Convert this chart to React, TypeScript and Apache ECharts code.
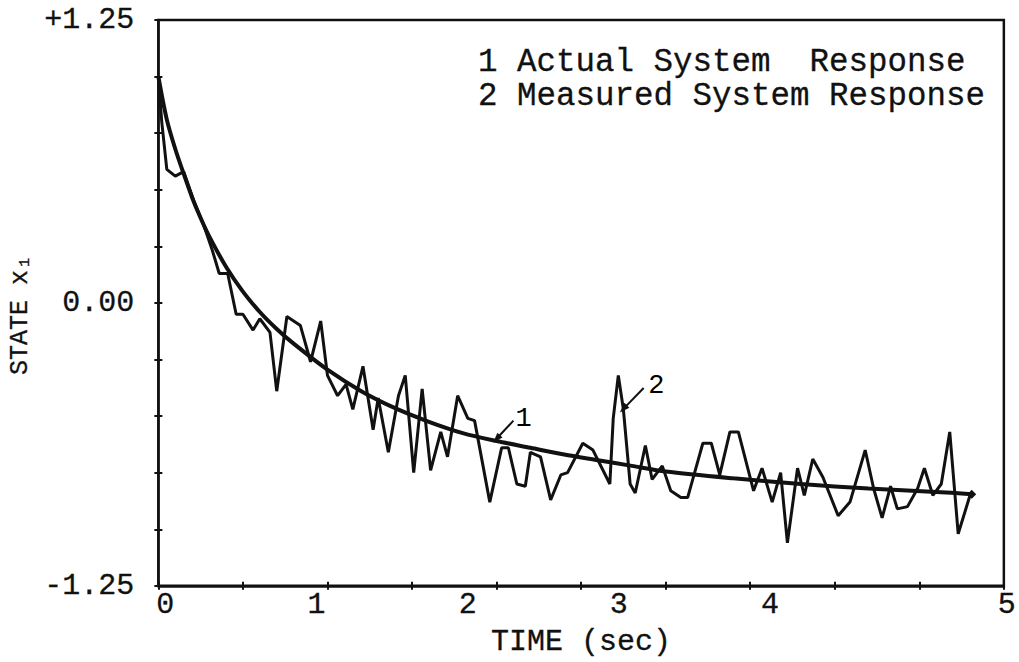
import React, { useEffect, useRef } from "react";
import * as echarts from "echarts";

// Time (s) / state x1 pairs for the two responses
const actualResponse: [number, number][] = [
  [0, 1.0], [0.05, 0.81], [0.1, 0.68], [0.15, 0.57], [0.2, 0.465], [0.25, 0.375],
  [0.3, 0.295], [0.4, 0.16], [0.5, 0.05], [0.6, -0.04], [0.7, -0.115], [0.8, -0.18],
  [1.0, -0.295], [1.2, -0.39], [1.4, -0.465], [1.6, -0.525], [1.8, -0.575], [2.0, -0.61],
  [2.2, -0.64], [2.4, -0.67], [2.6, -0.695], [2.8, -0.72], [3.0, -0.745], [3.4, -0.775],
  [3.8, -0.8], [4.2, -0.82], [4.6, -0.835], [4.81, -0.845],
];

const measuredResponse: [number, number][] = [
  [0, 1.0], [0.02, 0.8], [0.05, 0.59], [0.1, 0.56], [0.15, 0.58], [0.21, 0.45],
  [0.27, 0.34], [0.32, 0.23], [0.36, 0.13], [0.41, 0.13], [0.46, -0.05], [0.5, -0.05],
  [0.56, -0.12], [0.6, -0.07], [0.66, -0.13], [0.7, -0.39], [0.76, -0.06], [0.84, -0.1],
  [0.9, -0.26], [0.96, -0.08], [1.0, -0.32], [1.06, -0.41], [1.11, -0.36], [1.15, -0.47],
  [1.21, -0.28], [1.27, -0.56], [1.3, -0.42], [1.36, -0.66], [1.42, -0.41], [1.46, -0.32],
  [1.51, -0.75], [1.56, -0.38], [1.61, -0.74], [1.67, -0.57], [1.71, -0.68], [1.77, -0.41],
  [1.83, -0.51], [1.87, -0.52], [1.96, -0.88], [2.03, -0.64], [2.07, -0.64], [2.12, -0.8],
  [2.17, -0.81], [2.2, -0.66], [2.26, -0.68], [2.32, -0.87], [2.38, -0.76], [2.42, -0.75],
  [2.51, -0.62], [2.57, -0.65], [2.67, -0.8], [2.69, -0.51], [2.72, -0.32], [2.75, -0.47],
  [2.79, -0.8], [2.82, -0.84], [2.88, -0.63], [2.92, -0.78], [2.98, -0.72], [3.03, -0.83],
  [3.09, -0.86], [3.13, -0.86], [3.19, -0.7], [3.22, -0.62], [3.27, -0.62], [3.32, -0.76],
  [3.38, -0.57], [3.43, -0.57], [3.52, -0.83], [3.57, -0.73], [3.63, -0.88], [3.68, -0.75],
  [3.72, -1.06], [3.78, -0.73], [3.82, -0.85], [3.87, -0.69], [3.93, -0.77], [4.02, -0.94],
  [4.09, -0.88], [4.18, -0.65], [4.23, -0.82], [4.28, -0.95], [4.33, -0.81], [4.37, -0.91],
  [4.43, -0.9], [4.49, -0.82], [4.53, -0.73], [4.58, -0.85], [4.63, -0.8], [4.68, -0.57],
  [4.73, -1.02], [4.8, -0.85],
];

// Curve call-outs: arrow tail (t, x1) and arrow head (t, x1)
const calloutArrows: [[number, number], [number, number]][] = [
  [[2.1, -0.52], [2.0, -0.6]],
  [[2.87, -0.376], [2.75, -0.468]],
];
// Call-out numbers and where they sit (t, x1)
const calloutNames = ["1", "2"];
const calloutSpots: [number, number][] = [
  [2.16, -0.515],
  [2.945, -0.368],
];

const legendLines = ["1 Actual System\u00a0 Response", "2 Measured System Response"];
const timeLabels = [0, 1, 2, 3, 4];
const lastTimeLabel = "5";
const stateLabels: Record<string, string> = { "1.25": "+1.25", "0": "0.00", "-1.25": "-1.25" };

const FONT = '"Liberation Mono", "DejaVu Sans Mono", monospace';
const INK = "#111";

export default function App() {
  const ref = useRef<HTMLDivElement>(null);

  useEffect(() => {
    if (!ref.current) return;
    const chart = echarts.init(ref.current, undefined, { renderer: "svg" });

    const textBase = {
      fontFamily: FONT,
      color: INK,
      textBorderColor: INK,
      textBorderWidth: 0.3,
    };

    const lastActual = actualResponse[actualResponse.length - 1];

    chart.setOption({
      animation: false,
      backgroundColor: "#fff",
      color: [INK, INK, INK],
      title: {
        text: legendLines.join("\n"),
        left: 478,
        top: 45,
        padding: 0,
        textStyle: { ...textBase, fontSize: 32.5, fontWeight: "normal", lineHeight: 34 },
      },
      grid: {
        left: 158,
        right: 15,
        top: 20,
        bottom: 70,
        show: true,
        borderColor: INK,
        borderWidth: 2.5,
        backgroundColor: "transparent",
      },
      xAxis: [
        {
          type: "value",
          min: 0,
          max: 5,
          interval: 0.5,
          position: "bottom",
          axisLine: { show: true, onZero: false, lineStyle: { color: INK, width: 2.5 } },
          axisTick: { show: true, inside: true, length: 4, lineStyle: { color: INK, width: 2 } },
          axisLabel: { show: false },
          splitLine: { show: false },
          name: "TIME (sec)",
          nameLocation: "middle",
          nameGap: 41,
          nameTextStyle: { ...textBase, fontSize: 30 },
        },
        {
          // typed time labels, printed on a slightly compressed spacing
          type: "value",
          min: -0.0463,
          max: 5.547,
          position: "bottom",
          axisLine: { show: false, onZero: false },
          axisTick: { show: false },
          splitLine: { show: false },
          axisLabel: {
            show: true,
            customValues: timeLabels,
            formatter: (v: number) => String(Math.round(v)),
            margin: 4,
            ...textBase,
            fontSize: 30,
          },
          name: lastTimeLabel,
          nameLocation: "end",
          nameGap: 3,
          nameTextStyle: {
            ...textBase,
            fontSize: 30,
            align: "center",
            verticalAlign: "top",
            padding: [4, 0, 0, 0],
          },
        },
        {
          type: "value",
          min: 0,
          max: 5,
          interval: 0.5,
          position: "bottom",
          axisLine: { show: false, onZero: false },
          axisTick: { show: true, inside: false, length: 4, lineStyle: { color: INK, width: 2 } },
          axisLabel: { show: false },
          splitLine: { show: false },
        },
      ],
      yAxis: [
        {
          type: "value",
          min: -1.25,
          max: 1.25,
          interval: 0.25,
          position: "left",
          axisLine: { show: true, onZero: false, lineStyle: { color: INK, width: 2.5 } },
          axisTick: { show: true, inside: true, length: 4, lineStyle: { color: INK, width: 2 } },
          splitLine: { show: false },
          axisLabel: {
            show: true,
            margin: 24,
            showMinLabel: true,
            showMaxLabel: true,
            formatter: (v: number) => stateLabels[String(v)] ?? "",
            ...textBase,
            fontSize: 30,
          },
          name: "STATE x\u2081",
          nameLocation: "middle",
          nameGap: 122,
          nameTextStyle: { ...textBase, fontSize: 25, padding: [0, 24, 0, 0] },
        },
        {
          type: "value",
          min: -1.25,
          max: 1.25,
          interval: 0.25,
          position: "left",
          offset: 0,
          axisLine: { show: false, onZero: false },
          axisTick: { show: true, inside: false, length: 4, lineStyle: { color: INK, width: 2 } },
          axisLabel: { show: false },
          splitLine: { show: false },
        },
      ],
      series: [
        {
          name: "Actual System Response",
          type: "line",
          xAxisIndex: 0,
          yAxisIndex: 0,
          smooth: 0.3,
          symbol: "none",
          showSymbol: true,
          lineStyle: { color: INK, width: 4 },
          itemStyle: { color: INK },
          data: [
            ...actualResponse.slice(0, -1),
            { value: lastActual, symbol: "diamond", symbolSize: 9 },
          ],
          markLine: {
            silent: true,
            symbol: ["none", "triangle"],
            symbolSize: [7, 10],
            animation: false,
            lineStyle: { color: INK, width: 2, type: "solid" },
            itemStyle: { color: INK },
            label: { show: false },
            data: calloutArrows.map(([tail, head]) => [{ coord: tail }, { coord: head }]),
          },
        },
        {
          name: "Measured System Response",
          type: "line",
          xAxisIndex: 0,
          yAxisIndex: 0,
          symbol: "none",
          lineStyle: { color: INK, width: 3 },
          itemStyle: { color: INK },
          data: measuredResponse,
        },
        {
          name: "callouts",
          type: "scatter",
          xAxisIndex: 0,
          yAxisIndex: 0,
          symbolSize: 0,
          silent: true,
          itemStyle: { color: INK, opacity: 1 },
          label: {
            show: true,
            position: [0, 0],
            align: "center",
            verticalAlign: "middle",
            formatter: (p: any) => p.name,
            fontFamily: FONT,
            color: "#000",
            textBorderWidth: 0,
            fontSize: 27,
          },
          data: calloutSpots.map((value, i) => ({ value, name: calloutNames[i] })),
        },
      ],
    });

    return () => chart.dispose();
  }, []);

  return (
    <div
      ref={ref}
      style={{ position: "absolute", left: 0, top: 0, width: 1019, height: 662, background: "#fff" }}
    />
  );
}
